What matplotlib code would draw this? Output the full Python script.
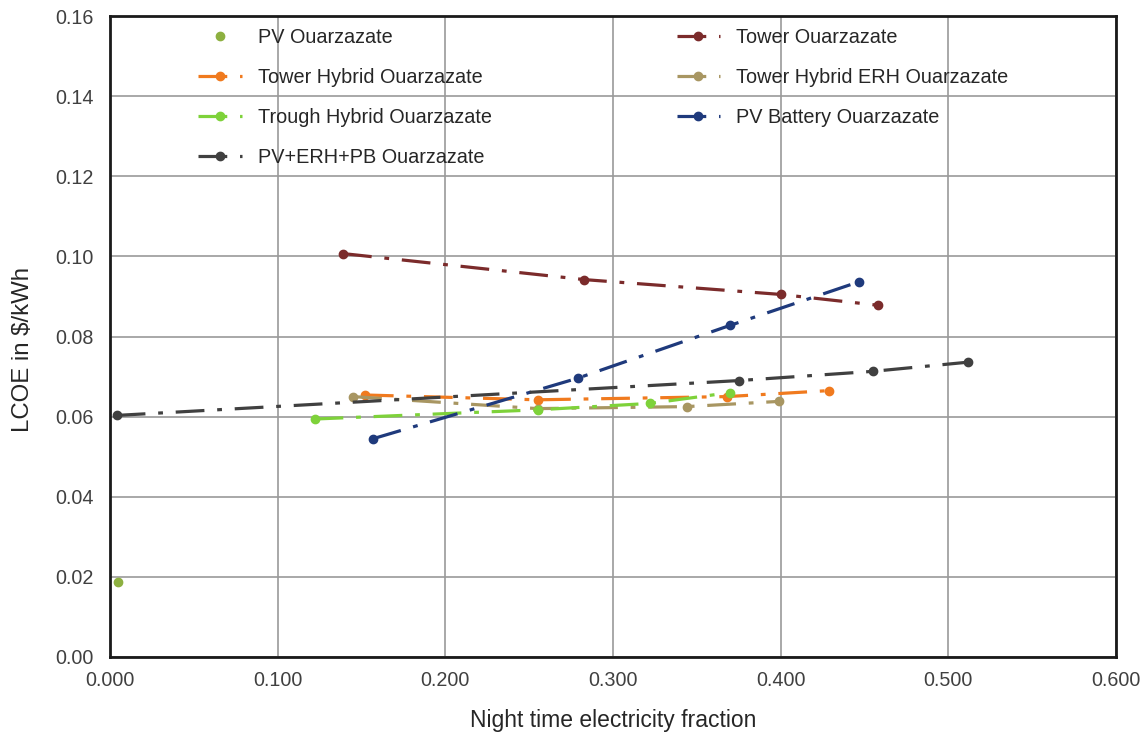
import matplotlib
matplotlib.use("Agg")
import matplotlib.pyplot as plt

plt.rcParams['font.family'] = ['Liberation Sans', 'DejaVu Sans']

# Data
pv_x = [0.005]
pv_y = [0.0188]

tower_x = [0.139, 0.283, 0.400, 0.458]
tower_y = [0.1007, 0.0942, 0.0905, 0.0878]

th_x = [0.152, 0.255, 0.368, 0.429]
th_y = [0.0654, 0.0642, 0.0650, 0.0665]

therh_x = [0.145, 0.255, 0.344, 0.399]
therh_y = [0.0650, 0.0620, 0.0625, 0.0638]

trough_x = [0.122, 0.255, 0.322, 0.370]
trough_y = [0.0594, 0.0617, 0.0633, 0.0660]

pvb_x = [0.157, 0.279, 0.370, 0.447]
pvb_y = [0.0545, 0.0696, 0.0828, 0.0937]

pvep_x = [0.004, 0.375, 0.455, 0.512]
pvep_y = [0.0603, 0.0690, 0.0713, 0.0736]

x_ticks = [0.0, 0.1, 0.2, 0.3, 0.4, 0.5, 0.6]
y_ticks = [0.00, 0.02, 0.04, 0.06, 0.08, 0.10, 0.12, 0.14, 0.16]

fig = plt.figure(figsize=(11.47, 7.42), dpi=100)
ax = fig.add_axes([110/1147, 1-657/742, (1116-110)/1147, (657-16)/742])

ls = (0, (9, 4, 1.5, 4))
lw = 2.3
ms = 6

h_pv, = ax.plot(pv_x, pv_y, 'o', color='#8DB040', ms=ms, label='PV Ouarzazate')
h_tw, = ax.plot(tower_x, tower_y, color='#7B2B2B', ls=ls, lw=lw, marker='o', ms=ms, label='Tower Ouarzazate')
h_th, = ax.plot(th_x, th_y, color='#F07A1E', ls=ls, lw=lw, marker='o', ms=ms, label='Tower Hybrid Ouarzazate')
h_te, = ax.plot(therh_x, therh_y, color='#A89662', ls=ls, lw=lw, marker='o', ms=ms, label='Tower Hybrid ERH Ouarzazate')
h_tr, = ax.plot(trough_x, trough_y, color='#7ED23A', ls=ls, lw=lw, marker='o', ms=ms, label='Trough Hybrid Ouarzazate')
h_pb, = ax.plot(pvb_x, pvb_y, color='#1F3A7C', ls=ls, lw=lw, marker='o', ms=ms, label='PV Battery Ouarzazate')
h_pe, = ax.plot(pvep_x, pvep_y, color='#404040', ls=ls, lw=lw, marker='o', ms=ms, label='PV+ERH+PB Ouarzazate')

ax.set_xlim(0, 0.6)
ax.set_ylim(0, 0.16)
ax.set_xticks(x_ticks)
ax.set_xticklabels([f"{v:.3f}" for v in x_ticks])
ax.set_yticks(y_ticks)
ax.set_yticklabels([f"{v:.2f}" for v in y_ticks])
ax.grid(True, color='#9a9a9a', lw=1.2)
ax.set_axisbelow(True)
ax.tick_params(axis='both', length=0, labelsize=14.2, labelcolor='#404040')
ax.tick_params(axis='y', pad=12)
ax.tick_params(axis='x', pad=10)
for s in ax.spines.values():
    s.set_linewidth(2)
    s.set_color('#1a1a1a')

ax.set_xlabel('Night time electricity fraction', fontsize=16.5, color='#262626', labelpad=14)
ax.set_ylabel('LCOE in \\$/kWh', fontsize=17.3, color='#262626', va='center')
ax.yaxis.set_label_coords(-0.0865, 0.479)

order_col1 = [h_pv, h_th, h_tr, h_pe]
order_col2 = [h_tw, h_te, h_pb]
leg = ax.legend(handles=order_col1 + order_col2, ncol=2, frameon=False, loc='upper left',
                bbox_to_anchor=(0.070, 1.0085), fontsize=14.3, handlelength=2.2,
                columnspacing=9.3, labelspacing=1.05, labelcolor='#262626')

fig.savefig('out.png', dpi=100, facecolor='white')
